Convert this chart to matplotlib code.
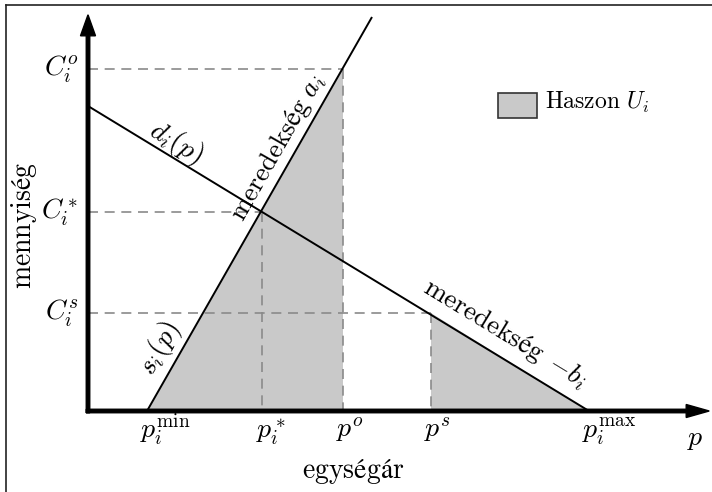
import matplotlib
matplotlib.use("Agg")
import matplotlib.pyplot as plt
from matplotlib.patches import Polygon, Rectangle
from matplotlib.lines import Line2D

plt.rcParams['mathtext.fontset'] = 'cm'
plt.rcParams['font.family'] = ['DejaVu Serif']

# ---- data (abstract price / quantity units) ----
supply_p = [0.59, 2.84]          # s_i(p): from p_min on the axis up past the top
supply_q = [0.0, 3.94]
demand_p = [0.0, 5.01]           # d_i(p): from intercept down to p_max
demand_q = [3.05, 0.0]

p_min, p_star, p_o, p_s, p_max = 0.59, 1.74, 2.55, 3.43, 5.01
C_star, C_o, C_s = 1.99, 3.42, 0.98

x_tick_vals = [p_min, p_star, p_o, p_s, p_max]
x_tick_labels = [r'$p_i^{\mathrm{min}}$', r'$p_i^*$', r'$p^o$', r'$p^s$', r'$p_i^{\mathrm{max}}$']
y_tick_vals = [C_o, C_star, C_s]
y_tick_labels = [r'$C_i^o$', r'$C_i^*$', r'$C_i^s$']
guide_x = [p_o, p_star, p_s]     # dashed guides paired with y_tick_vals

fill_c = '#c9c9c9'
dash_c = '#8a8a8a'

fig = plt.figure(figsize=(7.12, 4.92), dpi=100)
ax = fig.add_axes([0, 0, 1, 1])
ax.set_xlim(-0.88, 6.24)
ax.set_ylim(-0.81, 4.11)
ax.axis('off')

# outer frame (left and top edges visible)
fig.add_artist(Line2D([6/712, 6/712], [0, 1 - 5/492], color='#222222', lw=1.2, transform=fig.transFigure))
fig.add_artist(Line2D([6/712, 1], [1 - 5/492, 1 - 5/492], color='#222222', lw=1.2, transform=fig.transFigure))

# profit regions
ax.add_patch(Polygon([(p_min, 0), (p_o, C_o), (p_o, 0)], closed=True, facecolor=fill_c, edgecolor='none', zorder=1))
ax.add_patch(Polygon([(p_s, C_s), (p_max, 0), (p_s, 0)], closed=True, facecolor=fill_c, edgecolor='none', zorder=1))

# dashed guides
for gx, gy in zip(guide_x, y_tick_vals):
    ax.plot([0, gx], [gy, gy], color=dash_c, lw=1.2, dashes=(6, 4), zorder=2)
    ax.plot([gx, gx], [gy, 0], color=dash_c, lw=1.2, dashes=(6, 4), zorder=2)

# supply and demand lines
ax.plot(supply_p, supply_q, color='black', lw=1.4, zorder=3, solid_capstyle='butt')
ax.plot(demand_p, demand_q, color='black', lw=1.4, zorder=3, solid_capstyle='butt')

# axes arrows
ax.arrow(-0.018, 0, 6.23, 0, width=0.035, head_width=0.13, head_length=0.23,
         length_includes_head=True, color='black', zorder=4)
ax.arrow(0, -0.018, 0, 3.98, width=0.035, head_width=0.15, head_length=0.21,
         length_includes_head=True, color='black', zorder=4)

fs = 20
for v, lab in zip(x_tick_vals, x_tick_labels):
    ax.text(v - 0.065, -0.265, lab, fontsize=fs, ha='left', va='baseline')
for v, lab in zip(y_tick_vals, y_tick_labels):
    ax.text(-0.10, v, lab, fontsize=fs, ha='right', va='center')
ax.text(5.99, -0.34, r'$p$', fontsize=fs, ha='left', va='baseline')

ax.text(-0.64, 1.86, r'$\mathrm{mennyiség}$', fontsize=fs, rotation=90, ha='center', va='center')
ax.text(2.65, -0.67, r'$\mathrm{egységár}$', fontsize=fs, ha='center', va='baseline')

ax.text(0.88, 2.68, r'$d_i(p)$', fontsize=fs, rotation=-31.3, rotation_mode='anchor', ha='center', va='center')
ax.text(1.90, 2.63, r'$\mathrm{meredekség}\ a_i$', fontsize=19.5, rotation=60.3, rotation_mode='anchor', ha='center', va='center')
ax.text(0.72, 0.63, r'$s_i(p)$', fontsize=fs, rotation=60.3, rotation_mode='anchor', ha='center', va='center')
ax.text(4.17, 0.77, r'$\mathrm{meredekség}\ \,{-}b_i$', fontsize=19.5, rotation=-31.3, rotation_mode='anchor', ha='center', va='center')

# legend
ax.add_patch(Rectangle((4.10, 2.93), 0.39, 0.25, facecolor=fill_c, edgecolor='#333333', lw=1.2, zorder=3))
ax.text(4.57, 3.02, r'$\mathrm{Haszon}\ U_i$', fontsize=17, ha='left', va='baseline')

fig.savefig('out.png', dpi=100)
